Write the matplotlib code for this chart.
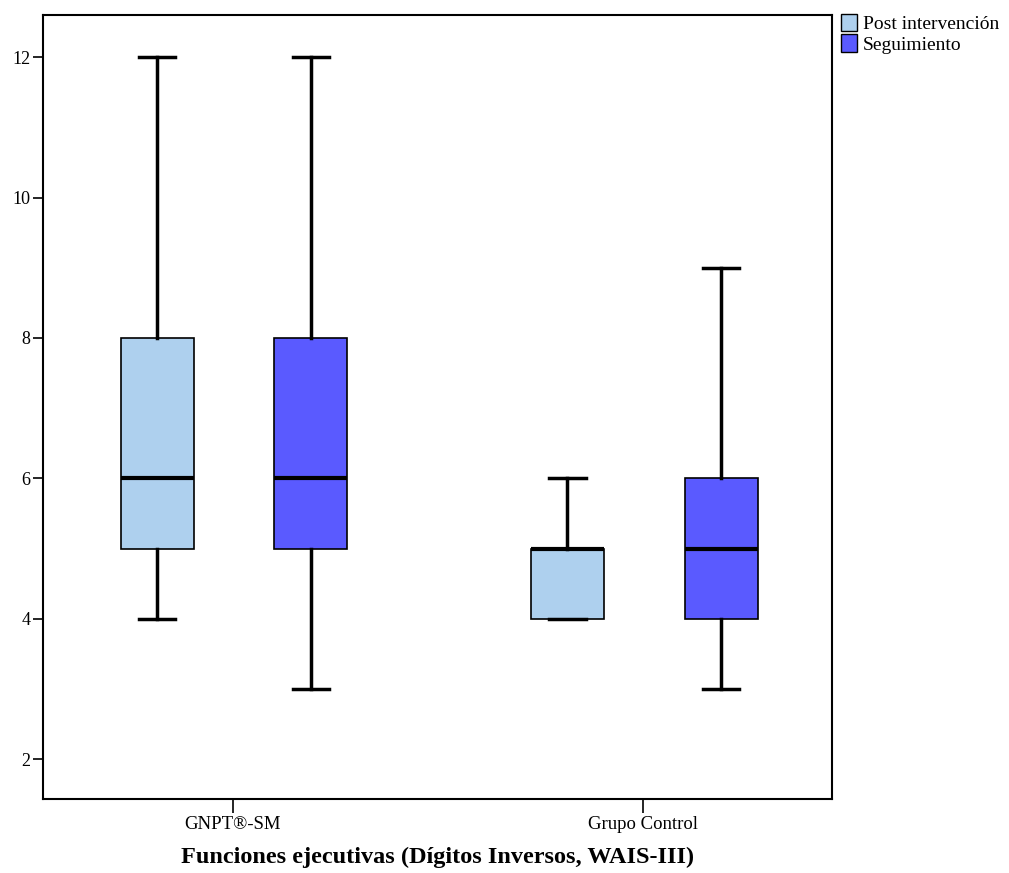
import matplotlib
matplotlib.use("Agg")
import matplotlib.pyplot as plt
from matplotlib.patches import Patch

# Data
groups = ["GNPT®-SM", "Grupo Control"]
series = ["Post intervención", "Seguimiento"]
colors = ["#aed0ee", "#5a5aff"]
# per group, per series: (whislo, q1, med, q3, whishi)
stats = {
    "Post intervención": [(4, 5, 6, 8, 12), (4, 4, 5, 5, 6)],
    "Seguimiento":       [(3, 5, 6, 8, 12), (3, 4, 5, 6, 9)],
}

plt.rcParams['font.family'] = ['Liberation Serif', 'DejaVu Serif']

fig = plt.figure(figsize=(10.09, 8.73), dpi=100)
ax = fig.add_axes([0.0426, 0.0847, 0.782, 0.898])

offsets = [-0.185, 0.19]
width = 0.178
for s, name in enumerate(series):
    bstats = []
    for g in range(len(groups)):
        lo, q1, med, q3, hi = stats[name][g]
        bstats.append(dict(whislo=lo, q1=q1, med=med, q3=q3, whishi=hi, fliers=[]))
    pos = [g + 1 + offsets[s] for g in range(len(groups))]
    ax.bxp(bstats, positions=pos, widths=width, patch_artist=True, showfliers=False,
           boxprops=dict(facecolor=colors[s], edgecolor="black", linewidth=1.2),
           medianprops=dict(color="black", linewidth=3),
           whiskerprops=dict(color="black", linewidth=2.5),
           capprops=dict(color="black", linewidth=2.5),
           capwidths=width / 2)

ax.set_xlim(0.537, 2.46)
ax.set_ylim(1.43, 12.6)
ax.set_xticks([1, 2])
ax.set_xticklabels(groups, fontsize=13.5)
ax.set_yticks([2, 4, 6, 8, 10, 12])
ax.tick_params(axis='y', labelsize=13, length=7, width=1.2, pad=2)
ax.tick_params(axis='x', length=10, width=1.2, pad=2)
for sp in ax.spines.values():
    sp.set_linewidth(1.5)
ax.set_xlabel("Funciones ejecutivas (Dígitos Inversos, WAIS-III)", fontsize=17.5,
              fontweight="bold", labelpad=10)

handles = [Patch(facecolor=c, edgecolor="black", label=n) for c, n in zip(colors, series)]
fig.legend(handles=handles, loc="upper left", bbox_to_anchor=(0.826, 0.993),
           frameon=False, fontsize=14, handlelength=0.8, handleheight=1.0,
           handletextpad=0.3, labelspacing=0.05, borderaxespad=0)

fig.savefig("out.png", dpi=100)
